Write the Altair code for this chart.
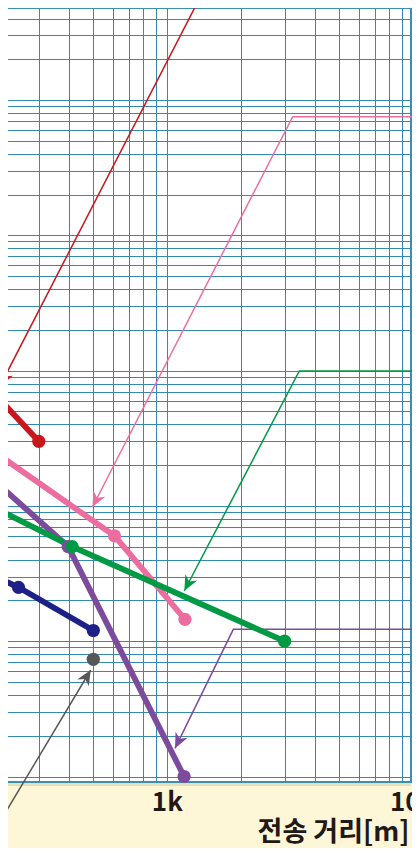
import altair as alt
import pandas as pd

# ---------------- data ----------------
# x: transmission distance [m]; y: rate (log scale, unlabeled in the crop)
names = ["red", "purple", "pink", "green", "navy", "gray"]
colors = ["#c8161d", "#7d4b9b", "#ec6ea0", "#009944", "#1d2087", "#575757"]

red_x = [205, 300]
red_y = [63, 30]
purple_x = [197, 205, 395, 1170]
purple_y = [30, 14.5, 5.0, 0.1]
pink_x = [205, 610, 1180]
pink_y = [24, 6.0, 1.45]
green_x = [157, 410, 3000]
green_y = [12, 5.0, 1.0]
navy_x = [157, 248, 500]
navy_y = [3.66, 2.5, 1.2]
gray_x = [500]
gray_y = [0.735]

# annotation leader lines (start ... arrow tip)
ann_red_x = [1408, 208.6]
ann_red_y = [65000, 76.9]
ann_pink_x = [11180, 3237, 496]
ann_pink_y = [7528, 7528, 9.81]
ann_green_x = [11180, 3444, 1173]
ann_green_y = [99.3, 99.3, 2.36]
ann_purple_x = [11180, 1856, 1075]
ann_purple_y = [1.224, 1.224, 0.1616]
ann_gray_x = [199, 488]
ann_gray_y = [0.0402, 0.6126]
arrow_angle = {"red": 207.2, "pink": 207.2, "green": 207.6, "purple": 206.1, "gray": 30.9}

x_grid = [300, 400, 500, 600, 700, 800, 900,
          1000, 2000, 3000, 4000, 5000, 6000, 7000, 8000, 9000]
x_labels = [1000, 10000]
x_label_text = ["1k", "10k"]
y_grid = [m * 10.0 ** k for k in range(-1, 5) for m in range(1, 10) if m * 10.0 ** k <= 40000]
x_domain = [218.6, 9805]
y_domain = [0.09107, 47860]

# ---------------- tables ----------------
series = {"red": (red_x, red_y), "purple": (purple_x, purple_y), "pink": (pink_x, pink_y),
          "green": (green_x, green_y), "navy": (navy_x, navy_y), "gray": (gray_x, gray_y)}
rows = []
for n, (xs, ys) in series.items():
    for i, (a, b) in enumerate(zip(xs, ys)):
        rows.append({"name": n, "i": i, "x": a, "y": b})
df_s = pd.DataFrame(rows)

anns = {"red": (ann_red_x, ann_red_y), "pink": (ann_pink_x, ann_pink_y),
        "green": (ann_green_x, ann_green_y), "purple": (ann_purple_x, ann_purple_y),
        "gray": (ann_gray_x, ann_gray_y)}
rows = []
tips = []
for n, (xs, ys) in anns.items():
    for i, (a, b) in enumerate(zip(xs, ys)):
        rows.append({"name": n, "i": i, "x": a, "y": b})
    tips.append({"name": n, "x": xs[-1], "y": ys[-1], "angle": arrow_angle[n]})
df_a = pd.DataFrame(rows)
df_t = pd.DataFrame(tips)
df_l = pd.DataFrame({"x": x_labels, "t": x_label_text, "y": [y_domain[0]] * len(x_labels)})

GRID = "#3389ae"
TXT = "#231815"
FONT = "Noto Sans CJK KR"

xscale = alt.Scale(type="log", domain=x_domain, nice=False)
yscale = alt.Scale(type="log", domain=y_domain, nice=False)
cscale = alt.Scale(domain=names, range=colors)

x_axis = alt.Axis(values=x_grid, grid=True, gridColor=GRID, gridWidth=1, gridOpacity=1,
                  ticks=False, domain=False, labels=False,
                  title="전송 거리[m]", titleFont=FONT, titleFontSize=27, titleFontWeight="bold",
                  titleColor=TXT, titleAnchor="end", titleAlign="right", titleBaseline="alphabetic",
                  titleX=404, titleY=58)
y_axis = alt.Axis(values=y_grid, grid=True, gridColor=GRID, gridWidth=1, gridOpacity=1,
                  ticks=False, domain=False, labels=False, title=None)

X = alt.X("x:Q", scale=xscale, axis=x_axis)
Y = alt.Y("y:Q", scale=yscale, axis=y_axis)
C = alt.Color("name:N", scale=cscale, legend=None)

shadow = alt.Chart(df_l).mark_rule(color="#e7dfb9", strokeWidth=3, yOffset=2.5).encode(
    x=alt.datum(x_domain[0]), x2=alt.datum(x_domain[1]), y=alt.datum(y_domain[0]))
ann_lines = alt.Chart(df_a).mark_line(strokeWidth=1.5).encode(
    x=X, y=Y, color=C, detail="name:N", order="i:Q")
ann_tips = alt.Chart(df_t).mark_point(
    shape="M0,0 L0.9,2 L0,1.4 L-0.9,2 Z", filled=True, size=225, opacity=1, strokeWidth=0
).encode(x=X, y=Y, color=C, angle=alt.Angle("angle:Q", scale=None))
lines = alt.Chart(df_s).mark_line(strokeWidth=5.8).encode(
    x=X, y=Y, color=C, detail="name:N", order="i:Q")
dots = alt.Chart(df_s).mark_circle(size=175, opacity=1).encode(x=X, y=Y, color=C)
labels = alt.Chart(df_l).mark_text(
    font=FONT, fontSize=26, fontWeight="bold", color=TXT, baseline="alphabetic",
    align="center", dy=29
).encode(x=X, y=Y, text="t:N")

chart = alt.layer(shadow, ann_lines, lines, dots, ann_tips, labels).properties(
    width=406, height=774,
    autosize=alt.AutoSizeParams(type="none"),
    padding={"left": -3, "top": 0, "right": 1, "bottom": 66},
    background="#fdf7d8",
).configure_view(fill="white", stroke="#3b8fb1", strokeWidth=2)

chart.save("out.html", embed_options={"renderer": "svg", "actions": False})
